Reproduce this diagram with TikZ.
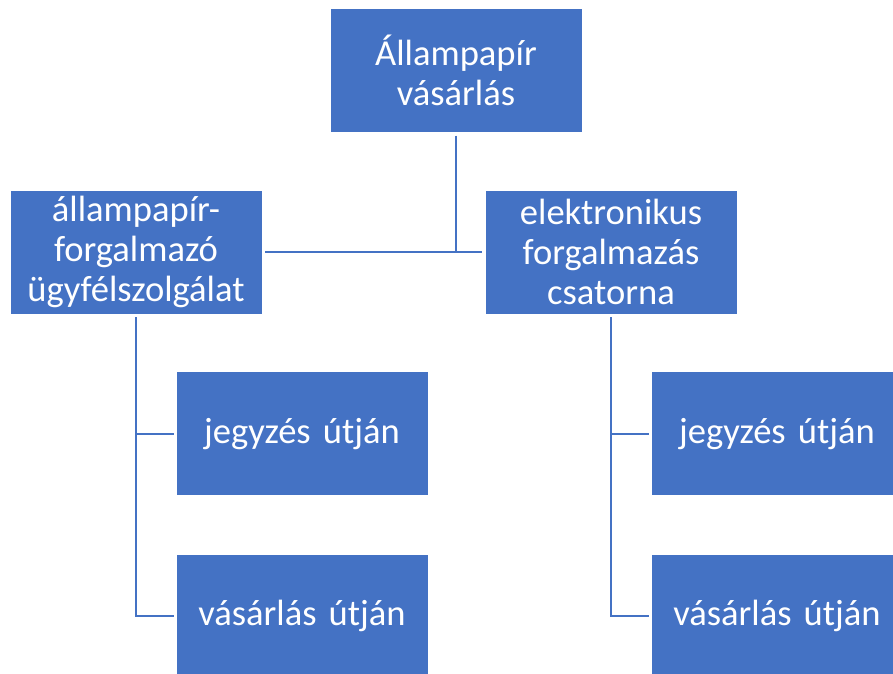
\documentclass[tikz,border=0pt]{standalone}
\usepackage{fontspec}
\setmainfont{Carlito}
\usetikzlibrary{positioning}

\definecolor{officeblue}{HTML}{4472C4}

\begin{document}
\begin{tikzpicture}[
    node distance=1.425cm,
    box/.style={
        rectangle,
        draw=white,
        line width=0.4pt,
        fill=officeblue,
        text=white,
        minimum width=6.3cm,
        minimum height=3.1cm,
        text width=6cm,
        align=center,
        inner sep=0pt,
        font=\fontsize{26}{28.5}\selectfont
    },
    link/.style={
        draw=officeblue,
        line width=1.4pt
    }
]

% picture frame
\clip (0,0) rectangle (22.325,-16.825);

% root
\node[box] (root) at (11.4,-1.7625) {Állampapír\\vásárlás};

% second level
\node[box, below=of root, xshift=-8cm] (office) {állampapír-\\forgalmazó\\ügyfélszolgálat};
\node[box, below=of root, xshift=3.875cm] (online) {elektronikus\\forgalmazás\\csatorna};

% leaves under office
\node[box, below=of office, xshift=4.15cm] (office-sub) {jegyzés útján};
\node[box, below=1.45cm of office-sub] (office-buy) {vásárlás útján};

% leaves under online
\node[box, below=of online, xshift=4.15cm] (online-sub) {jegyzés útján};
\node[box, below=1.45cm of online-sub] (online-buy) {vásárlás útján};

% connectors
\draw[link, shorten <=2pt] (root.south) -- (root.south |- office.east);
\draw[link, shorten <=2pt, shorten >=2pt] (office.east) -- (online.west);
\draw[link, shorten <=2pt, shorten >=1pt] (office.south) |- (office-sub.west);
\draw[link, shorten <=2pt, shorten >=1pt] (office.south) |- (office-buy.west);
\draw[link, shorten <=2pt, shorten >=1pt] (online.south) |- (online-sub.west);
\draw[link, shorten <=2pt, shorten >=1pt] (online.south) |- (online-buy.west);

\end{tikzpicture}
\end{document}
